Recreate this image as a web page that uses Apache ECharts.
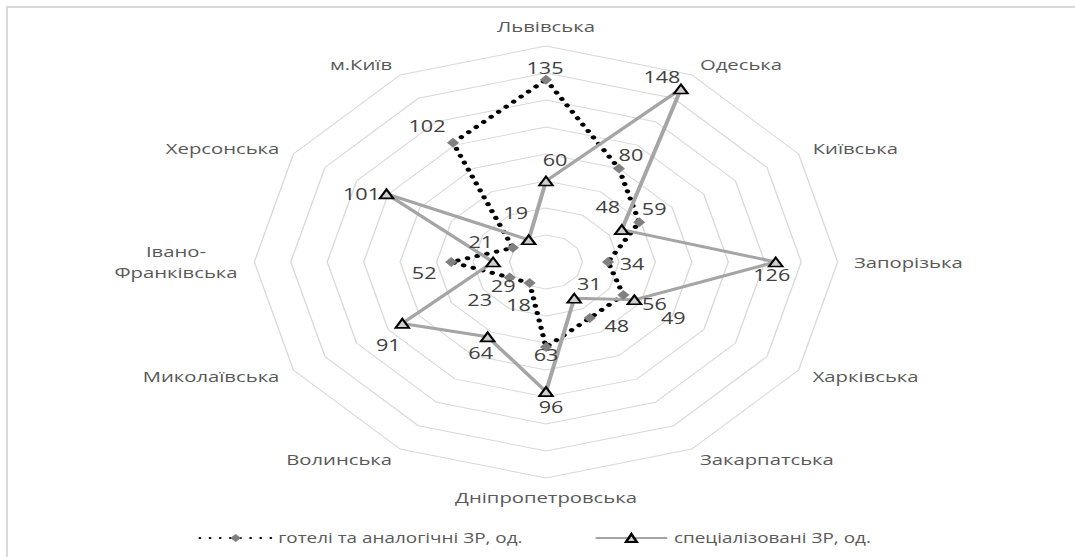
<!DOCTYPE html>
<html>
<head>
<meta charset="utf-8">
<script src="https://cdn.jsdelivr.net/npm/echarts/dist/echarts.min.js"></script>
<style>
  html, body { margin: 0; padding: 0; background: #fff; }
  #wrap { position: relative; width: 1075px; height: 557px; overflow: hidden; background: #fff; }
  #chart { position: absolute; left: 0; top: 0; width: 796px; height: 557px; transform: scaleX(1.3505); transform-origin: 0 0; }
  #frame { position: absolute; left: 6px; top: 6px; width: 1200px; height: 700px; border-top: 2px solid #d9d9d9; border-left: 2px solid #d9d9d9; pointer-events: none; }
</style>
</head>
<body>
<div id="wrap">
  <div id="chart"></div>
  <div id="frame"></div>
</div>
<script>
// ---- data ----
const categories = ['Львівська', 'Одеська', 'Київська', 'Запорізька', 'Харківська', 'Закарпатська',
  'Дніпропетровська', 'Волинська', 'Миколаївська', 'Івано-Франківська', 'Херсонська', 'м.Київ'];
const hotels = [135, 80, 59, 34, 49, 48, 63, 18, 23, 52, 21, 102];
const specialized = [60, 148, 48, 126, 56, 31, 96, 64, 91, 29, 101, 19];
const seriesNames = ['готелі та аналогічні ЗР, од.', 'спеціалізовані ЗР, од.'];
const axisMax = 160;
const ringCount = 8;

// ---- layout / style (kept apart from the data) ----
const SX = 1.3505;            // horizontal stretch of the reference picture
const CX = 546 / SX, CY = 262, R = 216;
// data-label offsets from each marker, in screen px
const hotelLabelOffsets = [[-1,-12],[12,-13],[15,-13],[24,2],[50,23],[27,8],[0,8],[-11,22],[-30,23],[-27,11],[-32,-6],[-26,-17]];
const specLabelOffsets  = [[9,-21],[-19,-12],[-14,-22],[-4,13],[20,4],[15,-14],[5,16],[-7,16],[-14,22],[10,24],[-25,0],[-13,-27]];

const FONT = 'Open Sans';
const chart = echarts.init(document.getElementById('chart'), null, { renderer: 'svg' });
const N = categories.length;

// radar indicators run counter-clockwise, so feed them reversed after the first
const radarOrder = [0].concat(categories.map((_, i) => i).slice(1).reverse());

// each point sits on its category's spoke (angle axis counts categories); the
// extra last point returns to the first spoke so the polygon closes
function buildData(values, offsets) {
  const d = values.map((v, i) => ({
    value: [v, i],
    name: categories[i],
    label: { offset: [offsets[i][0] / SX, offsets[i][1]] }
  }));
  d.push({ value: [values[0], N], name: categories[0], symbol: 'none', label: { show: false } });
  return d;
}

const option = {
  animation: false,
  backgroundColor: '#fff',
  textStyle: { fontFamily: FONT },
  radar: {
    center: [CX, CY],
    radius: R,
    startAngle: 90,
    splitNumber: ringCount,
    shape: 'polygon',
    nameGap: 12,
    indicator: radarOrder.map(i => ({ name: categories[i], min: 0, max: axisMax })),
    axisName: {
      color: '#595959', fontSize: 15, fontFamily: FONT,
      formatter: function (name) {
        if (name.indexOf('-') > 0) {
          const k = name.indexOf('-') + 1;
          return '{c|' + name.slice(0, k) + '}\n{c|' + name.slice(k) + '}';
        }
        return name;
      },
      rich: { c: { align: 'center', width: 92, fontSize: 15, color: '#595959', fontFamily: FONT, lineHeight: 21 } }
    },
    axisLine: { show: false },
    axisTick: { show: false },
    axisLabel: { show: false },
    splitLine: { lineStyle: { color: '#d9d9d9', width: 1 } },
    splitArea: { show: false }
  },
  polar: { center: [CX, CY], radius: R },
  angleAxis: {
    type: 'value', min: 0, max: N, startAngle: 90, clockwise: true,
    axisLine: { show: false }, axisTick: { show: false }, axisLabel: { show: false }, splitLine: { show: false }
  },
  radiusAxis: {
    type: 'value', min: 0, max: axisMax,
    axisLine: { show: false }, axisTick: { show: false }, axisLabel: { show: false }, splitLine: { show: false }
  },
  legend: {
    left: 142, top: 526,
    itemWidth: 53, itemHeight: 10, itemGap: 53,
    textStyle: { color: '#595959', fontSize: 14, fontFamily: FONT },
    data: seriesNames
  },
  series: [
    {
      name: seriesNames[0], type: 'line', coordinateSystem: 'polar', clip: false,
      symbol: 'diamond', symbolSize: [9, 10],
      itemStyle: { color: '#808080' },
      lineStyle: { color: '#000', width: 4, type: [0.1, 7.4], cap: 'round' },
      label: { show: true, position: 'inside', color: '#404040', fontSize: 16, fontFamily: FONT,
        formatter: p => p.value[0] },
      data: buildData(hotels, hotelLabelOffsets)
    },
    {
      name: seriesNames[1], type: 'line', coordinateSystem: 'polar', clip: false,
      symbol: 'triangle', symbolSize: [10, 9],
      itemStyle: { color: '#cfcfcf', borderColor: '#000', borderWidth: 1.7 },
      lineStyle: { color: '#a5a5a5', width: 3 },
      label: { show: true, position: 'inside', color: '#404040', fontSize: 16, fontFamily: FONT,
        formatter: p => p.value[0] },
      data: buildData(specialized, specLabelOffsets)
    }
  ]
};
chart.setOption(option);
</script>
</body>
</html>
